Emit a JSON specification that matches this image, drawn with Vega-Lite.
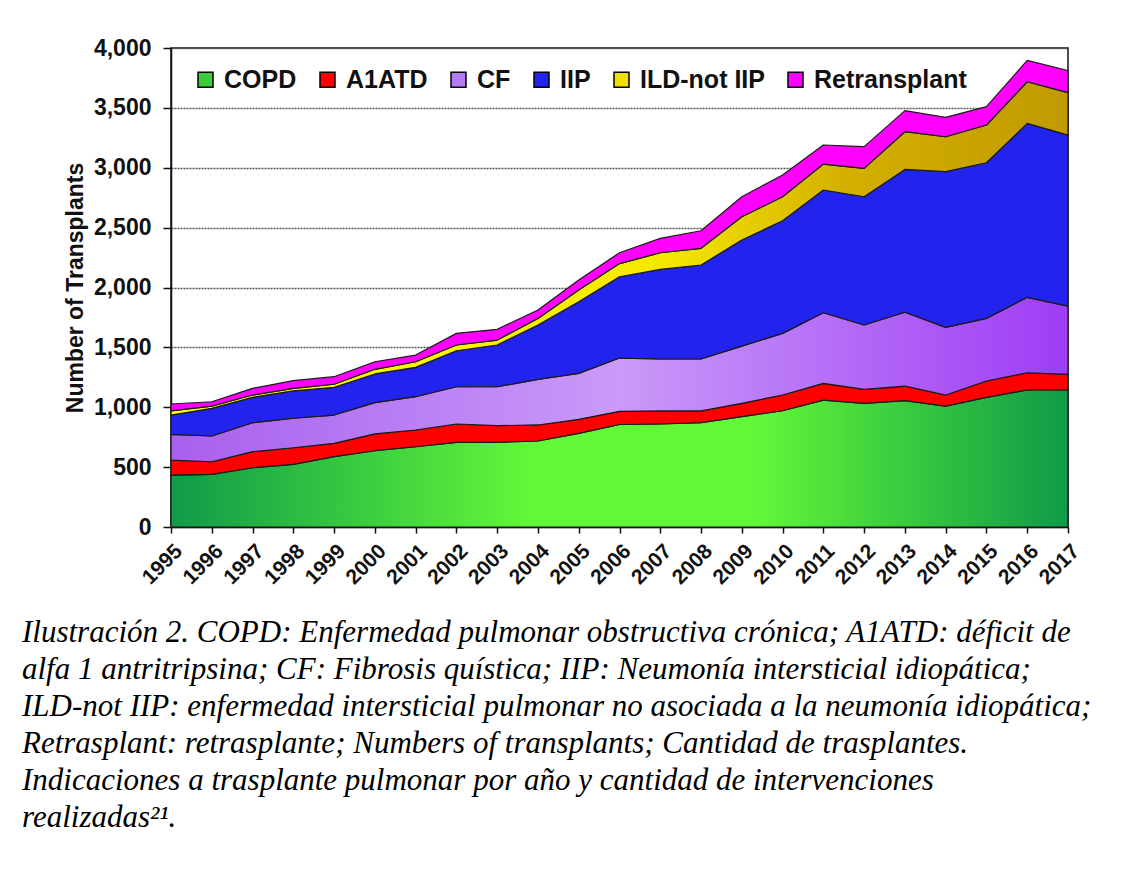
{
  "$schema": "https://vega.github.io/schema/vega-lite/v6.json",
  "width": 897,
  "height": 479,
  "autosize": {"type": "none"},
  "padding": {"left": 171, "top": 48, "right": 62, "bottom": 342},
  "background": "white",
  "config": {"view": {"stroke": "#111", "strokeWidth": 1.5}, "font": "Liberation Sans"},
  "title": {
    "text": [
      "Ilustración 2. COPD: Enfermedad pulmonar obstructiva crónica; A1ATD: déficit de",
      "alfa 1 antritripsina; CF: Fibrosis quística; IIP: Neumonía intersticial idiopática;",
      "ILD-not IIP: enfermedad intersticial pulmonar no asociada a la neumonía idiopática;",
      "Retrasplant: retrasplante; Numbers of transplants; Cantidad de trasplantes.",
      "Indicaciones a trasplante pulmonar por año y cantidad de intervenciones",
      "realizadas²¹."
    ],
    "orient": "bottom",
    "anchor": "start",
    "frame": "group",
    "dx": -149,
    "offset": 30,
    "font": "Liberation Serif",
    "fontStyle": "italic",
    "fontWeight": "normal",
    "fontSize": 31,
    "lineHeight": 37,
    "color": "#000"
  },
  "datasets": {
    "stackorder": [
      {"type": "COPD", "k": 1}, {"type": "A1ATD", "k": 2}, {"type": "CF", "k": 3},
      {"type": "IIP", "k": 4}, {"type": "ILD-not IIP", "k": 5}, {"type": "Retransplant", "k": 6}
    ],
    "rows": [
    {"year": 1995, "type": "COPD", "n": 434}, {"year": 1995, "type": "A1ATD", "n": 125}, {"year": 1995, "type": "CF", "n": 215}, {"year": 1995, "type": "IIP", "n": 161}, {"year": 1995, "type": "ILD-not IIP", "n": 34}, {"year": 1995, "type": "Retransplant", "n": 58},
    {"year": 1996, "type": "COPD", "n": 440}, {"year": 1996, "type": "A1ATD", "n": 105}, {"year": 1996, "type": "CF", "n": 215}, {"year": 1996, "type": "IIP", "n": 231}, {"year": 1996, "type": "ILD-not IIP", "n": 19}, {"year": 1996, "type": "Retransplant", "n": 36},
    {"year": 1997, "type": "COPD", "n": 495}, {"year": 1997, "type": "A1ATD", "n": 134}, {"year": 1997, "type": "CF", "n": 242}, {"year": 1997, "type": "IIP", "n": 212}, {"year": 1997, "type": "ILD-not IIP", "n": 19}, {"year": 1997, "type": "Retransplant", "n": 56},
    {"year": 1998, "type": "COPD", "n": 523}, {"year": 1998, "type": "A1ATD", "n": 139}, {"year": 1998, "type": "CF", "n": 246}, {"year": 1998, "type": "IIP", "n": 228}, {"year": 1998, "type": "ILD-not IIP", "n": 22}, {"year": 1998, "type": "Retransplant", "n": 64},
    {"year": 1999, "type": "COPD", "n": 587}, {"year": 1999, "type": "A1ATD", "n": 112}, {"year": 1999, "type": "CF", "n": 236}, {"year": 1999, "type": "IIP", "n": 231}, {"year": 1999, "type": "ILD-not IIP", "n": 26}, {"year": 1999, "type": "Retransplant", "n": 63},
    {"year": 2000, "type": "COPD", "n": 637}, {"year": 2000, "type": "A1ATD", "n": 140}, {"year": 2000, "type": "CF", "n": 261}, {"year": 2000, "type": "IIP", "n": 240}, {"year": 2000, "type": "ILD-not IIP", "n": 39}, {"year": 2000, "type": "Retransplant", "n": 63},
    {"year": 2001, "type": "COPD", "n": 670}, {"year": 2001, "type": "A1ATD", "n": 140}, {"year": 2001, "type": "CF", "n": 278}, {"year": 2001, "type": "IIP", "n": 245}, {"year": 2001, "type": "ILD-not IIP", "n": 47}, {"year": 2001, "type": "Retransplant", "n": 56},
    {"year": 2002, "type": "COPD", "n": 707}, {"year": 2002, "type": "A1ATD", "n": 153}, {"year": 2002, "type": "CF", "n": 311}, {"year": 2002, "type": "IIP", "n": 301}, {"year": 2002, "type": "ILD-not IIP", "n": 48}, {"year": 2002, "type": "Retransplant", "n": 97},
    {"year": 2003, "type": "COPD", "n": 707}, {"year": 2003, "type": "A1ATD", "n": 139}, {"year": 2003, "type": "CF", "n": 325}, {"year": 2003, "type": "IIP", "n": 349}, {"year": 2003, "type": "ILD-not IIP", "n": 41}, {"year": 2003, "type": "Retransplant", "n": 90},
    {"year": 2004, "type": "COPD", "n": 718}, {"year": 2004, "type": "A1ATD", "n": 134}, {"year": 2004, "type": "CF", "n": 381}, {"year": 2004, "type": "IIP", "n": 454}, {"year": 2004, "type": "ILD-not IIP", "n": 55}, {"year": 2004, "type": "Retransplant", "n": 70},
    {"year": 2005, "type": "COPD", "n": 782}, {"year": 2005, "type": "A1ATD", "n": 117}, {"year": 2005, "type": "CF", "n": 384}, {"year": 2005, "type": "IIP", "n": 598}, {"year": 2005, "type": "ILD-not IIP", "n": 98}, {"year": 2005, "type": "Retransplant", "n": 83},
    {"year": 2006, "type": "COPD", "n": 856}, {"year": 2006, "type": "A1ATD", "n": 110}, {"year": 2006, "type": "CF", "n": 445}, {"year": 2006, "type": "IIP", "n": 679}, {"year": 2006, "type": "ILD-not IIP", "n": 110}, {"year": 2006, "type": "Retransplant", "n": 90},
    {"year": 2007, "type": "COPD", "n": 860}, {"year": 2007, "type": "A1ATD", "n": 109}, {"year": 2007, "type": "CF", "n": 434}, {"year": 2007, "type": "IIP", "n": 748}, {"year": 2007, "type": "ILD-not IIP", "n": 139}, {"year": 2007, "type": "Retransplant", "n": 120},
    {"year": 2008, "type": "COPD", "n": 871}, {"year": 2008, "type": "A1ATD", "n": 98}, {"year": 2008, "type": "CF", "n": 434}, {"year": 2008, "type": "IIP", "n": 785}, {"year": 2008, "type": "ILD-not IIP", "n": 139}, {"year": 2008, "type": "Retransplant", "n": 147},
    {"year": 2009, "type": "COPD", "n": 921}, {"year": 2009, "type": "A1ATD", "n": 112}, {"year": 2009, "type": "CF", "n": 478}, {"year": 2009, "type": "IIP", "n": 885}, {"year": 2009, "type": "ILD-not IIP", "n": 195}, {"year": 2009, "type": "Retransplant", "n": 167},
    {"year": 2010, "type": "COPD", "n": 971}, {"year": 2010, "type": "A1ATD", "n": 131}, {"year": 2010, "type": "CF", "n": 515}, {"year": 2010, "type": "IIP", "n": 940}, {"year": 2010, "type": "ILD-not IIP", "n": 201}, {"year": 2010, "type": "Retransplant", "n": 181},
    {"year": 2011, "type": "COPD", "n": 1060}, {"year": 2011, "type": "A1ATD", "n": 140}, {"year": 2011, "type": "CF", "n": 589}, {"year": 2011, "type": "IIP", "n": 1025}, {"year": 2011, "type": "ILD-not IIP", "n": 217}, {"year": 2011, "type": "Retransplant", "n": 159},
    {"year": 2012, "type": "COPD", "n": 1033}, {"year": 2012, "type": "A1ATD", "n": 117}, {"year": 2012, "type": "CF", "n": 537}, {"year": 2012, "type": "IIP", "n": 1071}, {"year": 2012, "type": "ILD-not IIP", "n": 237}, {"year": 2012, "type": "Retransplant", "n": 181},
    {"year": 2013, "type": "COPD", "n": 1055}, {"year": 2013, "type": "A1ATD", "n": 122}, {"year": 2013, "type": "CF", "n": 616}, {"year": 2013, "type": "IIP", "n": 1193}, {"year": 2013, "type": "ILD-not IIP", "n": 315}, {"year": 2013, "type": "Retransplant", "n": 176},
    {"year": 2014, "type": "COPD", "n": 1010}, {"year": 2014, "type": "A1ATD", "n": 92}, {"year": 2014, "type": "CF", "n": 565}, {"year": 2014, "type": "IIP", "n": 1300}, {"year": 2014, "type": "ILD-not IIP", "n": 292}, {"year": 2014, "type": "Retransplant", "n": 162},
    {"year": 2015, "type": "COPD", "n": 1083}, {"year": 2015, "type": "A1ATD", "n": 136}, {"year": 2015, "type": "CF", "n": 523}, {"year": 2015, "type": "IIP", "n": 1300}, {"year": 2015, "type": "ILD-not IIP", "n": 315}, {"year": 2015, "type": "Retransplant", "n": 153},
    {"year": 2016, "type": "COPD", "n": 1144}, {"year": 2016, "type": "A1ATD", "n": 144}, {"year": 2016, "type": "CF", "n": 630}, {"year": 2016, "type": "IIP", "n": 1452}, {"year": 2016, "type": "ILD-not IIP", "n": 348}, {"year": 2016, "type": "Retransplant", "n": 178},
    {"year": 2017, "type": "COPD", "n": 1144}, {"year": 2017, "type": "A1ATD", "n": 131}, {"year": 2017, "type": "CF", "n": 570}, {"year": 2017, "type": "IIP", "n": 1428}, {"year": 2017, "type": "ILD-not IIP", "n": 354}, {"year": 2017, "type": "Retransplant", "n": 185}
    ]
  },
  "data": {"name": "rows"},
  "transform": [
    {"lookup": "type", "from": {"data": {"name": "stackorder"}, "key": "type", "fields": ["k"]}}
  ],
  "mark": {"type": "area", "opacity": 1, "stroke": "#1a1a1a", "strokeWidth": 1.2, "strokeJoin": "round"},
  "encoding": {
    "x": {
      "field": "year", "type": "quantitative",
      "scale": {"domain": [1995, 2017], "nice": false, "zero": false},
      "axis": {
        "values": [1995, 1996, 1997, 1998, 1999, 2000, 2001, 2002, 2003, 2004, 2005, 2006, 2007, 2008, 2009, 2010, 2011, 2012, 2013, 2014, 2015, 2016, 2017],
        "format": "d", "title": null, "grid": false,
        "labelAngle": -45, "labelFont": "Liberation Sans", "labelFontWeight": "bold", "labelFontSize": 21, "labelColor": "#111",
        "labelFlush": false, "labelOverlap": false, "labelPadding": 7,
        "tickColor": "#111", "tickSize": 6, "tickWidth": 1.5,
        "domainColor": "#111", "domainWidth": 1.5
      }
    },
    "y": {
      "field": "n", "type": "quantitative", "stack": "zero",
      "scale": {"domain": [0, 4000], "nice": false},
      "axis": {
        "values": [0, 500, 1000, 1500, 2000, 2500, 3000, 3500, 4000],
        "format": ",.0f", "title": "Number of Transplants",
        "titleFont": "Liberation Sans", "titleFontSize": 23, "titleFontWeight": "bold", "titleColor": "#111", "titlePadding": 6,
        "labelFont": "Liberation Sans", "labelFontSize": 23, "labelFontWeight": "bold", "labelColor": "#111", "labelPadding": 12, "labelFlush": false,
        "tickColor": "#111", "tickSize": 8, "tickWidth": 1.5,
        "grid": true, "gridColor": "#555", "gridDash": [2, 1], "gridWidth": 1.5,
        "domainColor": "#111", "domainWidth": 1.5
      }
    },
    "order": {"field": "k", "type": "quantitative"},
    "fill": {
      "condition": [
        {"test": "datum.type === 'COPD'", "value": {"gradient": "linear", "x1": 0, "y1": 0, "x2": 1, "y2": 0, "stops": [{"offset": 0, "color": "#109a48"}, {"offset": 0.4, "color": "#62f838"}, {"offset": 0.65, "color": "#62f838"}, {"offset": 1, "color": "#0f9a48"}]}},
        {"test": "datum.type === 'CF'", "value": {"gradient": "linear", "x1": 0, "y1": 0, "x2": 1, "y2": 0, "stops": [{"offset": 0, "color": "#a860ee"}, {"offset": 0.5, "color": "#c99af8"}, {"offset": 1, "color": "#9f3cf5"}]}},
        {"test": "datum.type === 'ILD-not IIP'", "value": {"gradient": "linear", "x1": 0, "y1": 0, "x2": 1, "y2": 0, "stops": [{"offset": 0, "color": "#ffff00"}, {"offset": 0.55, "color": "#f5e800"}, {"offset": 0.75, "color": "#d4b000"}, {"offset": 1, "color": "#c09a00"}]}}
      ],
      "field": "type", "type": "nominal",
      "scale": {
        "domain": ["COPD", "A1ATD", "CF", "IIP", "ILD-not IIP", "Retransplant"],
        "range": ["#3ccc3c", "#ff0000", "#b37cf2", "#2323ee", "#f0e000", "#ff00ff"]
      },
      "legend": {
        "title": null, "orient": "none", "legendX": 22, "legendY": 19, "direction": "horizontal", "columns": 6,
        "columnPadding": 18, "symbolType": "square", "symbolSize": 225, "symbolStrokeColor": "#000", "symbolStrokeWidth": 1.5, "symbolOpacity": 1,
        "labelFont": "Liberation Sans", "labelFontSize": 25, "labelFontWeight": "bold", "labelColor": "#111", "labelOffset": 6, "labelLimit": 400
      }
    }
  }
}
